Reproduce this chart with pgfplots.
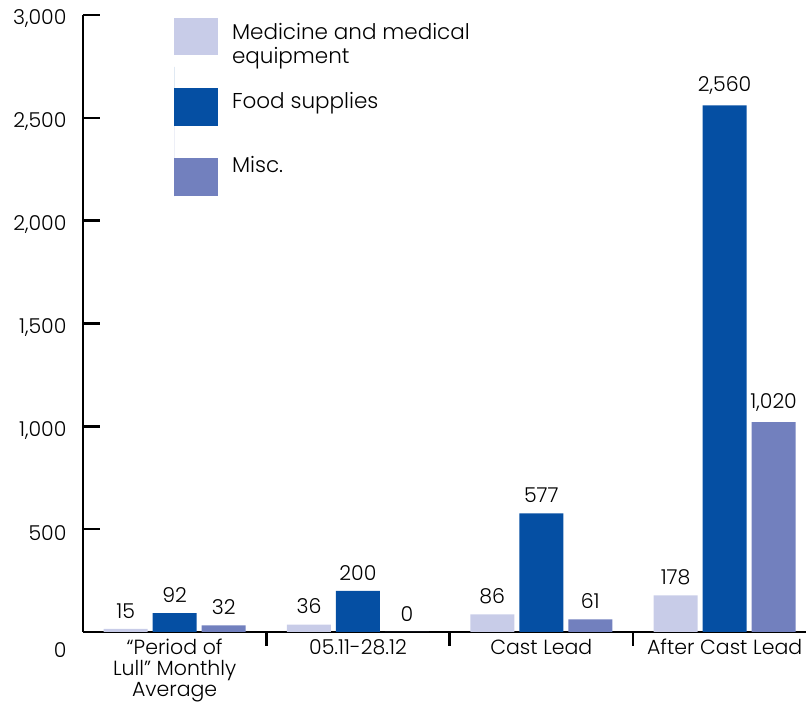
\documentclass[border=0pt]{standalone}
\usepackage{pgfplots}
\pgfplotsset{compat=1.18}
\usepackage{fontspec}
\setmainfont{Poppins}[UprightFont=* Light]
\definecolor{cMed}{RGB}{200,204,232}
\definecolor{cFood}{RGB}{5,79,163}
\definecolor{cMisc}{RGB}{114,128,190}
\newcommand{\lblfont}{\fontsize{20.5}{24}\selectfont}
\newcommand{\xlblfont}{\fontsize{20.5}{24}\selectfont}
\newcommand{\legfont}{\fontsize{21.5}{24}\selectfont}
\begin{document}
\begin{tikzpicture}
\begin{axis}[
  scale only axis, width=723pt, height=617pt,
  xmin=-0.5, xmax=3.444, ymin=0, ymax=3000,
  axis x line=bottom, axis y line=left,
  axis line style={-, line width=2.5pt, black},
  ytick={500,1000,...,3000},
  extra y ticks={0},
  extra y tick style={major tick length=0pt, yticklabel style={yshift=-14pt}},
  tick align=inside, major tick length=17pt,
  tick style={line width=2.5pt, black},
  yticklabel style={font=\lblfont, xshift=-13pt, yshift=-4pt},
  xtick={0,1,2,3},
  xticklabels={{``Period of\\[-3pt]Lull'' Monthly\\[-3pt]Average},{05.11-28.12},{Cast Lead},{After Cast Lead}},
  xticklabel style={font=\xlblfont, align=center, inner ysep=0pt, yshift=10pt},
  major x tick style={draw=none},
  minor xtick={0.5,1.5,2.5},
  minor tick length=14pt,
  minor x tick style={line width=2.5pt, black},
  ybar=5pt, bar width=44pt,
  nodes near coords,
  nodes near coords style={font=\lblfont, yshift=7pt, text=black},
  legend style={at={(rel axis cs:0.1259,0.9951)}, anchor=north west,
    draw=none, fill=none, inner sep=0pt, outer sep=0pt, row sep=0pt, column sep=12pt,
    cells={anchor=west, inner sep=0pt, font=\legfont, align=left}},
  /pgf/number format/.cd, 1000 sep={,}, assume math mode=true
]
\addplot+[draw=none, fill=cMed,
  legend image code/.code={\fill[cMed] (0pt,-11pt) rectangle (44pt,26pt);}]
  coordinates {(0,15) (1,36) (2,86) (3,178)};
\addlegendentry{Medicine and medical\\equipment}
\addplot+[draw=none, fill=cFood,
  legend image code/.code={\fill[cFood] (0pt,-25.5pt) rectangle (44pt,12.5pt); \path (0pt,34pt) -- (0pt,-25.5pt);}]
  coordinates {(0,92) (1,200) (2,577) (3,2560)};
\addlegendentry{Food supplies}
\addplot+[draw=none, fill=cMisc,
  legend image code/.code={\fill[cMisc] (0pt,-31pt) rectangle (44pt,7pt); \path (0pt,39pt) -- (0pt,-31pt);}]
  coordinates {(0,32) (1,0) (2,61) (3,1020)};
\addlegendentry{Misc.}
\end{axis}
\pgfresetboundingbox
\path[use as bounding box] ([xshift=-83pt,yshift=-71pt]current axis.south west) rectangle ([yshift=15pt]current axis.north east);
\end{tikzpicture}
\end{document}
